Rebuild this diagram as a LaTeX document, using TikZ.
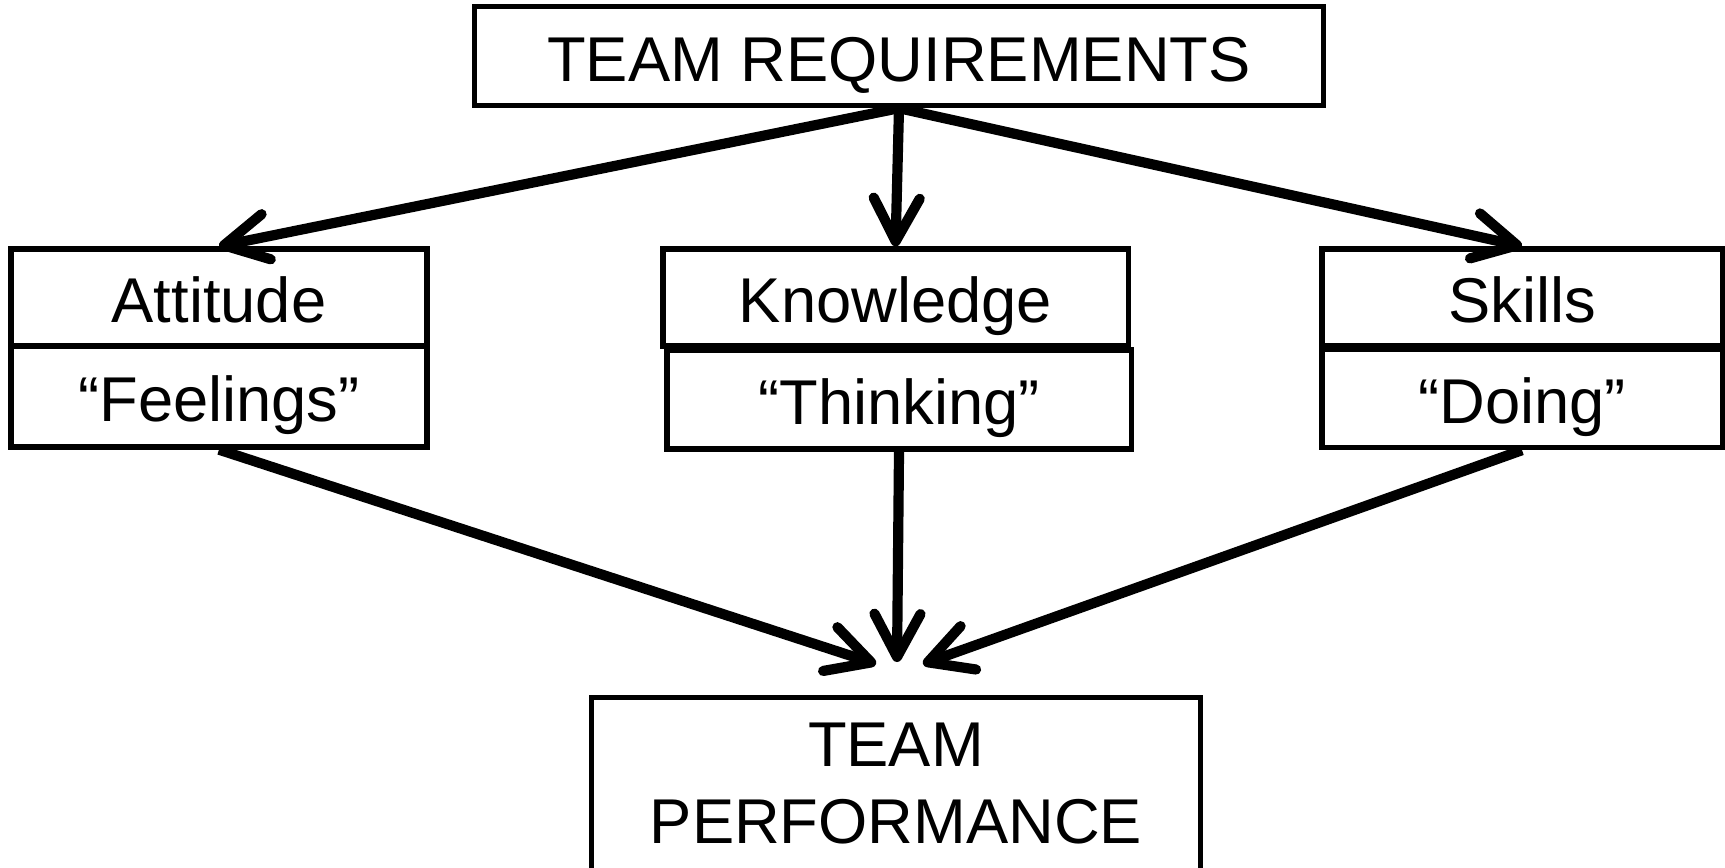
\documentclass[tikz,border=0pt]{standalone}
\usepackage{fontspec}
\setmainfont{Liberation Sans}
\usetikzlibrary{arrows.meta}

\begin{document}
\begin{tikzpicture}[x=0.01cm,y=-0.01cm,
        box/.style={rectangle,draw,line width=1.5pt,inner sep=0pt},
        sub/.style={box,text height=14pt,text depth=0pt,font=\fontsize{18}{21.8}\selectfont},
        link/.style={line width=2.9pt,-{Straight Barb[length=4.3mm,width=4.6mm,line cap=round,line join=round]}}]
        \useasboundingbox (0,0) rectangle (1725,867);

        \node [box,minimum width=8.48cm,minimum height=0.99cm,text height=14.5pt,text depth=0pt,font=\fontsize{18}{21.8}\selectfont] (req) at (899,56) {TEAM REQUIREMENTS};

        \node [sub,minimum width=4.16cm,minimum height=0.97cm] (att) at (219,297.5) {Attitude};
        \node [sub,minimum width=4.16cm,minimum height=1.01cm] (feel) at (219,396.5) {“Feelings”};
        \node [sub,minimum width=4.65cm,minimum height=0.97cm] (know) at (895.5,297.5) {Knowledge};
        \node [sub,minimum width=4.64cm,minimum height=0.99cm] (think) at (899,399.5) {“Thinking”};
        \node [sub,minimum width=4.00cm,minimum height=0.97cm] (skill) at (1522,297.5) {Skills};
        \node [sub,minimum width=4.00cm,minimum height=0.98cm] (doing) at (1522,398.5) {“Doing”};

        \node [box,anchor=north,minimum width=6.08cm,minimum height=2cm] (perf) at (896,695) {};
        \node [align=center,inner sep=0pt,font=\fontsize{18}{21.8}\selectfont] (perftext) at (896,783.5) {TEAM\\PERFORMANCE};

        \coordinate (inl) at (876,664);
        \coordinate (inm) at (897,662);
        \coordinate (inr) at (923,664);

        \draw [link] (req.south) -- (att.north);
        \draw [link] (req.south) -- (know.north);
        \draw [link] (req.south) -- (skill.north);
        \draw [link] (feel.south) -- (inl);
        \draw [link] (think.south) -- (inm);
        \draw [link] (doing.south) -- (inr);
    \end{tikzpicture}
\end{document}
